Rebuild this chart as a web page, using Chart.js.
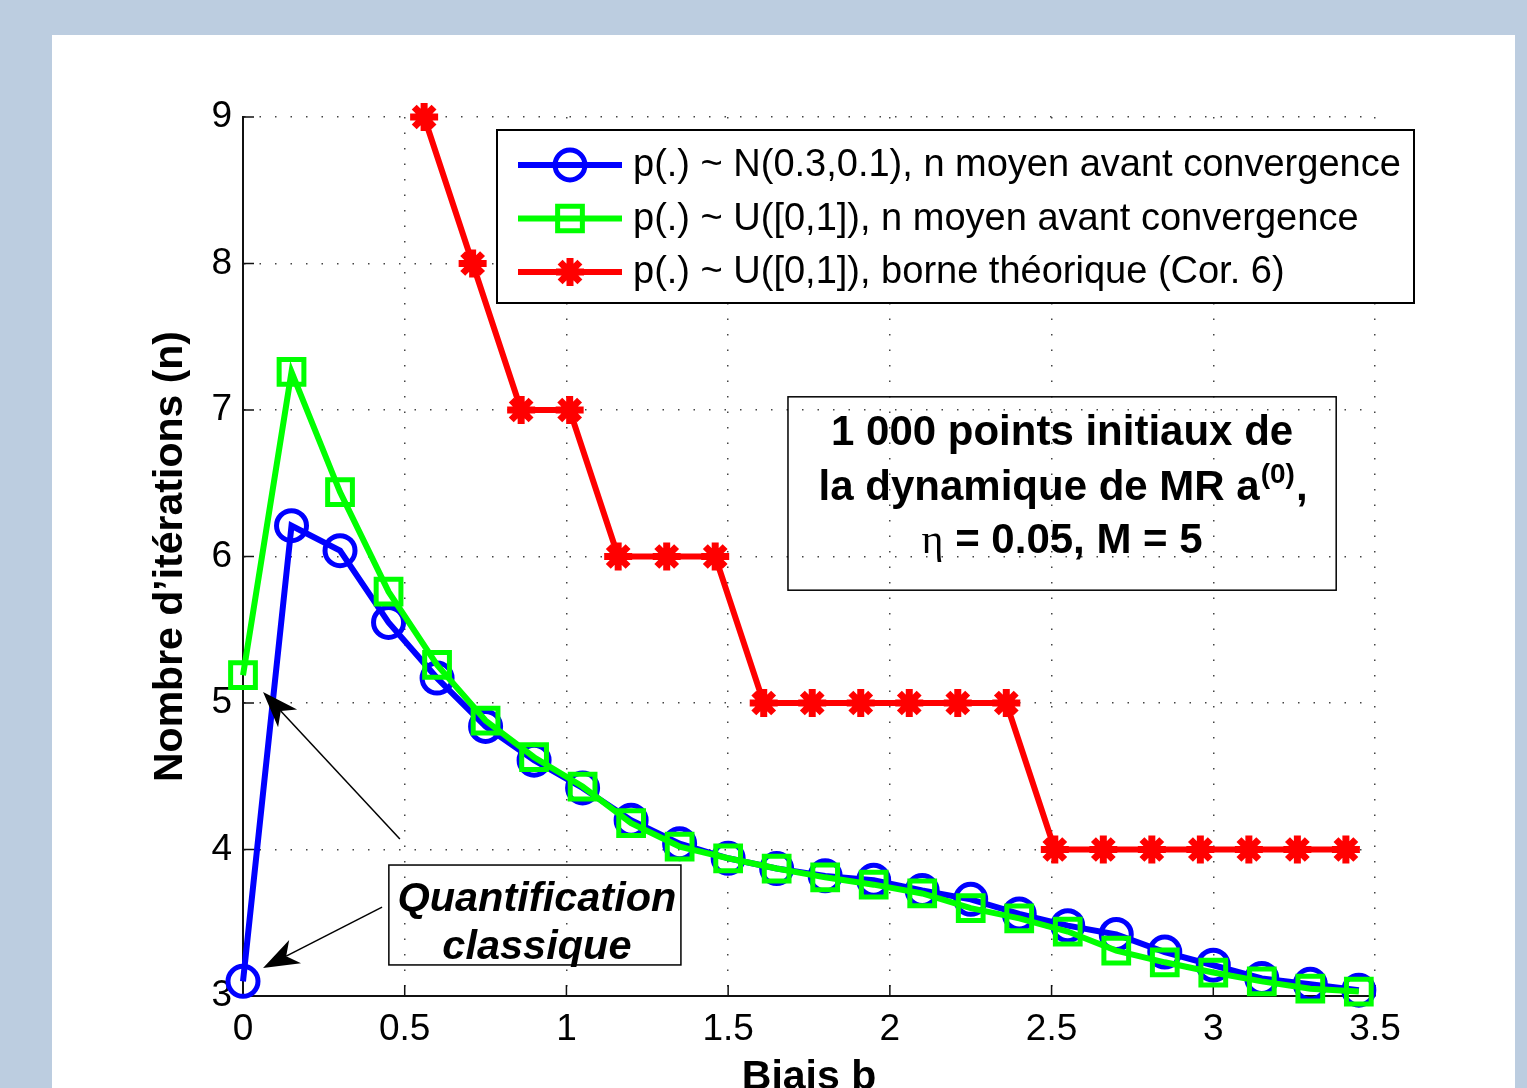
<!DOCTYPE html>
<html>
<head>
<meta charset="utf-8">
<script src="https://cdn.jsdelivr.net/npm/chart.js@4.4.0/dist/chart.umd.min.js"></script>
<style>
  html, body { margin: 0; padding: 0; overflow: hidden; background: #bccde0; }
  #panneau { position: absolute; left: 52px; top: 35px; width: 1463px; height: 1053px; background: #fff; overflow: hidden; }
  canvas { display: block; }
</style>
</head>
<body>
<div id="panneau"><canvas id="graphique" width="1463" height="1066"></canvas></div>
<script>
// biais b (axe x) pour les deux courbes simulées
const biais = [0, 0.15, 0.3, 0.45, 0.6, 0.75, 0.9, 1.05, 1.2, 1.35, 1.5, 1.65,
  1.8, 1.95, 2.1, 2.25, 2.4, 2.55, 2.7, 2.85, 3.0, 3.15, 3.3, 3.45]
const nNormale = [3.10, 6.21, 6.04, 5.55, 5.17, 4.84, 4.61, 4.42, 4.20, 4.04, 3.94, 3.87,
  3.82, 3.79, 3.72, 3.66, 3.56, 3.48, 3.42, 3.30, 3.21, 3.12, 3.08, 3.04]
const nUniforme = [5.19, 7.26, 6.44, 5.76, 5.26, 4.88, 4.63, 4.43, 4.18, 4.02, 3.94, 3.87,
  3.81, 3.76, 3.70, 3.60, 3.53, 3.44, 3.31, 3.23, 3.16, 3.10, 3.05, 3.03]

// borne théorique (Cor. 6)
const biaisBorne = [0.56, 0.71, 0.86, 1.01, 1.16, 1.31, 1.46, 1.61, 1.76, 1.91,
  2.06, 2.21, 2.36, 2.51, 2.66, 2.81, 2.96, 3.11, 3.26, 3.41]
const borne = [9, 8, 7, 7, 6, 6, 6, 5, 5, 5, 5, 5, 5, 4, 4, 4, 4, 4, 4, 4]

const ticksX = [0, 0.5, 1, 1.5, 2, 2.5, 3, 3.5]
const ticksY = [3, 4, 5, 6, 7, 8, 9]

const legendes = [
  'p(.) ~ N(0.3,0.1), n moyen avant convergence',
  'p(.) ~ U([0,1]), n moyen avant convergence',
  'p(.) ~ U([0,1]), borne théorique (Cor. 6)'
]

const police = '"Liberation Sans", Arial, Helvetica, sans-serif'

function enPoints(xs, ys) {
  return xs.map((v, i) => ({ x: v, y: ys[i] }))
}

function fleche(ctx, x1, y1, x2, y2) {
  // trait puis pointe pleine façon MATLAB
  const ang = Math.atan2(y2 - y1, x2 - x1)
  const L = 36, W = 13, creux = 26
  ctx.beginPath()
  ctx.moveTo(x1, y1)
  ctx.lineTo(x2 - Math.cos(ang) * creux, y2 - Math.sin(ang) * creux)
  ctx.stroke()
  const bx = x2 - Math.cos(ang) * L, by = y2 - Math.sin(ang) * L
  const ix = x2 - Math.cos(ang) * creux, iy = y2 - Math.sin(ang) * creux
  ctx.beginPath()
  ctx.moveTo(x2, y2)
  ctx.lineTo(bx + Math.sin(ang) * W, by - Math.cos(ang) * W)
  ctx.lineTo(ix, iy)
  ctx.lineTo(bx - Math.sin(ang) * W, by + Math.cos(ang) * W)
  ctx.closePath()
  ctx.fill()
}

const graduations = {
  id: 'graduations',
  beforeDatasetsDraw(chart) {
    const { ctx, chartArea: ca, scales: { x, y } } = chart
    ctx.save()
    ctx.strokeStyle = '#111'
    ctx.lineWidth = 1.5
    ctx.beginPath()
    ticksX.forEach(v => {
      const px = x.getPixelForValue(v)
      ctx.moveTo(px, ca.bottom)
      ctx.lineTo(px, ca.bottom - 11)
    })
    ticksY.forEach(v => {
      const py = y.getPixelForValue(v)
      ctx.moveTo(ca.left, py)
      ctx.lineTo(ca.left + 11, py)
    })
    ctx.stroke()
    ctx.restore()
  }
}

const annotations = {
  id: 'annotations',
  afterDatasetsDraw(chart) {
    const { ctx, chartArea: ca, scales: { x, y } } = chart
    ctx.save()

    // légende
    const lx = ca.left + 254, ly = ca.top + 13, lw = 917, lh = 173
    ctx.fillStyle = '#fff'
    ctx.fillRect(lx, ly, lw, lh)
    ctx.strokeStyle = '#000'
    ctx.lineWidth = 2
    ctx.strokeRect(lx, ly, lw, lh)
    chart.data.datasets.forEach((ds, i) => {
      const ry = ly + 35 + i * 53.5
      ctx.strokeStyle = ds.borderColor
      ctx.lineWidth = ds.borderWidth
      ctx.beginPath()
      ctx.moveTo(lx + 21, ry)
      ctx.lineTo(lx + 125, ry)
      ctx.stroke()
      ctx.fillStyle = 'rgba(0,0,0,0)'
      ctx.lineWidth = ds.pointBorderWidth
      Chart.helpers.drawPoint(ctx, { pointStyle: ds.pointStyle, radius: ds.pointRadius, borderWidth: ds.pointBorderWidth, rotation: 0 }, lx + 73, ry)
      ctx.fillStyle = '#000'
      ctx.font = '38px ' + police
      ctx.textBaseline = 'middle'
      ctx.textAlign = 'left'
      ctx.fillText(legendes[i], lx + 136, ry + 1)
    })

    // encadré des paramètres
    const bx = x.getPixelForValue(1.685), by = y.getPixelForValue(7.09)
    const bx2 = x.getPixelForValue(3.38), by2 = y.getPixelForValue(5.77)
    ctx.strokeStyle = '#000'
    ctx.lineWidth = 1.5
    ctx.strokeRect(bx, by, bx2 - bx, by2 - by)
    const cx = (bx + bx2) / 2
    const gras = 'bold 42px ' + police
    ctx.fillStyle = '#000'
    ctx.textBaseline = 'alphabetic'
    ctx.textAlign = 'center'
    ctx.font = gras
    ctx.fillText('1 000 points initiaux de', cx, by + 48)
    // ligne avec exposant
    const t1 = 'la dynamique de MR a', t2 = '(0)', t3 = ','
    ctx.font = gras
    const w1 = ctx.measureText(t1).width, w3 = ctx.measureText(t3).width
    ctx.font = 'bold 28px ' + police
    const w2 = ctx.measureText(t2).width
    let sx = cx - (w1 + w2 + w3) / 2
    ctx.textAlign = 'left'
    ctx.font = gras
    ctx.fillText(t1, sx, by + 103)
    ctx.font = 'bold 28px ' + police
    ctx.fillText(t2, sx + w1 + 1, by + 86)
    ctx.font = gras
    ctx.fillText(t3, sx + w1 + w2 + 2, by + 103)
    // eta = 0.05, M = 5
    const e1 = 'η', e2 = ' = 0.05, M = 5'
    const serif = '42px "Liberation Serif", "DejaVu Serif", serif'
    ctx.font = serif
    const we1 = ctx.measureText(e1).width
    ctx.font = gras
    const we2 = ctx.measureText(e2).width
    sx = cx - (we1 + we2) / 2
    ctx.font = serif
    ctx.fillText(e1, sx, by + 156)
    ctx.font = gras
    ctx.fillText(e2, sx + we1, by + 156)

    // encadré "Quantification classique"
    const qx = x.getPixelForValue(0.451), qy = y.getPixelForValue(3.894)
    const qx2 = x.getPixelForValue(1.354), qy2 = y.getPixelForValue(3.212)
    ctx.lineWidth = 1.5
    ctx.strokeRect(qx, qy, qx2 - qx, qy2 - qy)
    ctx.textAlign = 'center'
    ctx.font = 'italic bold 41.5px ' + police
    const qc = (qx + qx2) / 2 + 2
    ctx.fillText('Quantification', qc, qy + 46)
    ctx.fillText('classique', qc, qy + 94)

    // flèches
    ctx.strokeStyle = '#000'
    ctx.fillStyle = '#000'
    ctx.lineWidth = 1.5
    fleche(ctx, x.getPixelForValue(0.485), y.getPixelForValue(4.072), x.getPixelForValue(0.062), y.getPixelForValue(5.075))
    fleche(ctx, x.getPixelForValue(0.430), y.getPixelForValue(3.607), x.getPixelForValue(0.062), y.getPixelForValue(3.191))

    ctx.restore()
  }
}

const grilleCommune = {
  color: '#444',
  lineWidth: 1.5,
  drawTicks: false
}

const ctx = document.getElementById('graphique').getContext('2d')
new Chart(ctx, {
  type: 'line',
  data: {
    datasets: [
      {
        label: legendes[0],
        data: enPoints(biais, nNormale),
        borderColor: '#0000ff',
        borderWidth: 6,
        pointStyle: 'circle',
        pointRadius: 15,
        pointBorderWidth: 5,
        pointBackgroundColor: 'rgba(0,0,0,0)',
        pointBorderColor: '#0000ff',
        order: 3,
        clip: false
      },
      {
        label: legendes[1],
        data: enPoints(biais, nUniforme),
        borderColor: '#00ff00',
        borderWidth: 6,
        pointStyle: 'rect',
        pointRadius: 17.5,
        pointBorderWidth: 5,
        pointBackgroundColor: 'rgba(0,0,0,0)',
        pointBorderColor: '#00ff00',
        order: 2,
        clip: false
      },
      {
        label: legendes[2],
        data: enPoints(biaisBorne, borne),
        borderColor: '#ff0000',
        borderWidth: 6,
        pointStyle: 'star',
        pointRadius: 14,
        pointBorderWidth: 7,
        pointBackgroundColor: '#ff0000',
        pointBorderColor: '#ff0000',
        order: 1,
        clip: false
      }
    ]
  },
  options: {
    responsive: false,
    animation: false,
    devicePixelRatio: 1,
    layout: { padding: { left: 0, top: 82, right: 140, bottom: 3 } },
    plugins: {
      legend: { display: false },
      tooltip: { enabled: false }
    },
    elements: { line: { tension: 0 } },
    scales: {
      x: {
        type: 'linear',
        min: 0,
        max: 3.5,
        afterBuildTicks: s => { s.ticks = ticksX.map(v => ({ value: v })) },
        afterFit: s => { s.height = 102 },
        grid: grilleCommune,
        border: { display: true, color: '#111', width: 2, dash: [1.5, 14] },
        ticks: {
          color: '#000',
          padding: 15,
          maxRotation: 0,
          callback: v => String(v),
          font: { family: police, size: 37, lineHeight: 1 }
        },
        title: {
          display: true,
          text: 'Biais b',
          color: '#000',
          padding: { top: 0, bottom: 0 },
          font: { family: police, size: 41, weight: 'bold', lineHeight: 1 }
        }
      },
      y: {
        type: 'linear',
        min: 3,
        max: 9,
        afterBuildTicks: s => { s.ticks = ticksY.map(v => ({ value: v })) },
        afterFit: s => { s.width = 191 },
        grid: grilleCommune,
        border: { display: true, color: '#111', width: 2, dash: [1.5, 14] },
        ticks: {
          color: '#000',
          padding: 11,
          font: { family: police, size: 37, lineHeight: 1 }
        },
        title: {
          display: true,
          text: 'Nombre d’itérations (n)',
          color: '#000',
          padding: { top: 98, bottom: 0 },
          font: { family: police, size: 41, weight: 'bold', lineHeight: 1 }
        }
      }
    }
  },
  plugins: [graduations, annotations]
})
</script>
</body>
</html>
